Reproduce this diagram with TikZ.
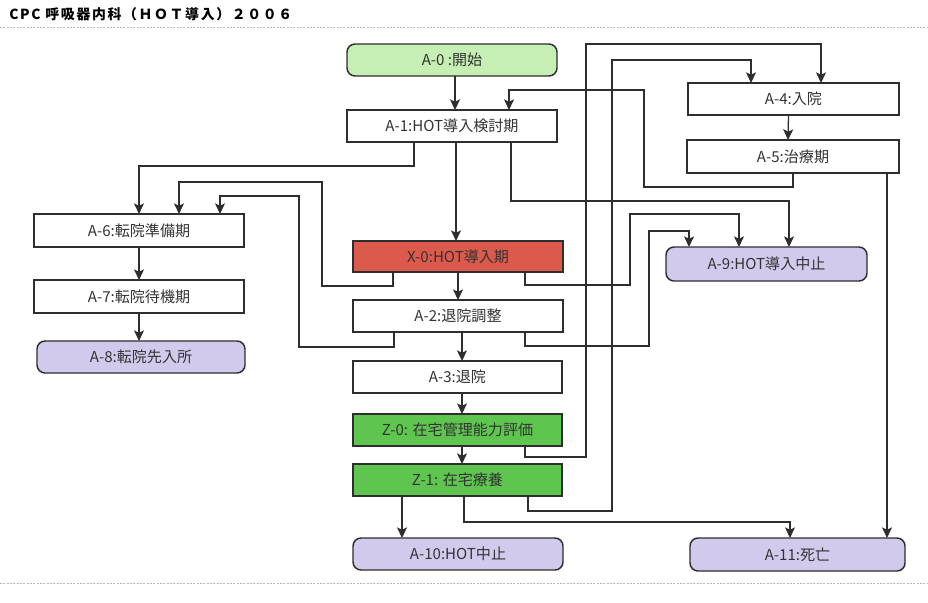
\documentclass[tikz,border=0pt]{standalone}
\usepackage{fontspec}
\setmainfont{Noto Sans CJK JP}
\usetikzlibrary{arrows.meta,calc}
\definecolor{ln}{HTML}{2E2E2E}
\definecolor{txt}{HTML}{333333}
\definecolor{startg}{HTML}{C6EFB4}
\definecolor{lav}{HTML}{D1CAEC}
\definecolor{redx}{HTML}{DB5A4B}
\definecolor{grz}{HTML}{5EC64F}
\definecolor{sep}{HTML}{B8B8B8}
\newcommand\mkbox[7]{\node[#6, minimum width={(#4-#2)*0.75pt}, minimum height={(#5-#3)*0.75pt}] (#1) at ({(#2+#4)/2},{(#3+#5)/2}) {#7};}
\begin{document}
\begin{tikzpicture}[x=0.75pt,y=-0.75pt,
  base/.style={draw=ln, line width=1.1pt, inner sep=0pt, outer sep=0pt, text=txt, font=\fontsize{11.3pt}{13pt}\selectfont},
  wbox/.style={base, fill=white},
  sbox/.style={base, fill=startg, rounded corners=6pt},
  ebox/.style={base, fill=lav, rounded corners=6pt},
  xbox/.style={base, fill=redx},
  zbox/.style={base, fill=grz},
  arr/.style={draw=ln, line width=0.95pt, -{Stealth[length=8pt,width=7.5pt,inset=1.8pt]}},
  ln/.style={draw=ln, line width=0.95pt}]
\useasboundingbox (0,0) rectangle (928,603);
\fill[white] (0,0) rectangle (928,603);
% title and separators
\node[anchor=west, inner sep=0pt, text=black, font=\fontsize{10.4pt}{12pt}\selectfont\bfseries\addfontfeature{LetterSpace=12}] (title) at (9,14) {CPC 呼吸器内科（ＨＯＴ導入）２００６};
\coordinate (s1a) at (0,27); \coordinate (s1b) at (928,27);
\coordinate (s2a) at (0,583); \coordinate (s2b) at (928,583);
\draw[sep, line width=0.6pt, dash pattern=on 1.5pt off 1pt] (s1a) -- (s1b);
\draw[sep, line width=0.6pt, dash pattern=on 1.5pt off 1pt] (s2a) -- (s2b);
% nodes
\mkbox{a0}{347}{44}{557}{76}{sbox}{A-0 :開始}
\mkbox{a1}{347}{110}{557}{142}{wbox}{A-1:HOT導入検討期}
\mkbox{a4}{688}{83}{899}{115}{wbox}{A-4:入院}
\mkbox{a5}{687}{140}{899}{173}{wbox}{A-5:治療期}
\mkbox{a6}{34}{214}{244}{247}{wbox}{A-6:転院準備期}
\mkbox{a7}{34}{280}{244}{313}{wbox}{A-7:転院待機期}
\mkbox{a8}{37}{341}{245}{373}{ebox}{A-8:転院先入所}
\mkbox{x0}{353}{241}{563}{272}{xbox}{X-0:HOT導入期}
\mkbox{a2}{353}{300}{563}{332}{wbox}{A-2:退院調整}
\mkbox{a3}{353}{361}{562}{393}{wbox}{A-3:退院}
\mkbox{z0}{353}{414}{562}{446}{zbox}{Z-0: 在宅管理能力評価}
\mkbox{z1}{353}{464}{562}{496}{zbox}{Z-1: 在宅療養}
\mkbox{a9}{666}{247}{867}{281}{ebox}{A-9:HOT導入中止}
\mkbox{a10}{353}{538}{563}{570}{ebox}{A-10:HOT中止}
\mkbox{a11}{690}{538}{905}{571}{ebox}{A-11:死亡}
% straight connectors
\draw[arr] ($(a0.south)+(3,0)$) -- ($(a1.north)+(3,0)$);
\draw[arr] ($(a1.south)+(4,0)$) -- ($(x0.north)+(-2,0)$);
\draw[arr] (x0.south) -- (a2.north);
\draw[arr] ($(a2.south)+(4,0)$) -- ($(a3.north)+(4.5,0)$);
\draw[arr] ($(a3.south)+(4.5,0)$) -- ($(z0.north)+(4.5,0)$);
\draw[arr] ($(z0.south)+(4.5,0)$) -- ($(z1.north)+(4.5,0)$);
\draw[arr] ($(z1.south west)+(49,0)$) -- ($(a10.north west)+(49,0)$);
\draw[arr] ($(a4.south)+(-5,0)$) -- ($(a5.north)+(-5,0)$);
\draw[arr] (a6.south) -- (a7.south |- a7.north);
\draw[arr] (a7.south) -- (a7.south |- a8.north);
\path ($(a5.south west)+(200,0)$) coordinate (p511);
\draw[arr] (p511) -- (p511 |- a11.north);
% routed connectors
\draw[arr] ($(a1.south west)+(67,0)$) -- ++(0,24) -| (a6.north);
\draw[arr] ($(a1.south west)+(164,0)$) |- ($(a9.north west)+(123,-46)$) -- ($(a9.north west)+(123,0)$);
\draw[arr] ($(a5.south west)+(106,0)$) -- ++(0,14) -| (644,90) -| ($(a1.north west)+(162,0)$);
\draw[arr] ($(z0.south west)+(172,0)$) -- ++(0,11) -| (586,44) -| ($(a4.north west)+(133,0)$);
\draw[arr] ($(z1.south west)+(175,0)$) -- ++(0,15) -| (612,60) -| ($(a4.north west)+(63,0)$);
\draw[arr] ($(x0.south west)+(40,0)$) -- ++(0,14) -| (322,182) -| ($(a6.north west)+(145,0)$);
\draw[arr] ($(x0.south west)+(172,0)$) -- ++(0,13) -| (630,214) -| ($(a9.north west)+(73,0)$);
\draw[arr] ($(a2.south west)+(41,0)$) -- ++(0,15) -| (299,196) -| ($(a6.north west)+(186,0)$);
\draw[arr] ($(a2.south west)+(172,0)$) -- ++(0,14) -| (649,231) -| ($(a9.north west)+(23,0)$);
\draw[arr] ($(z1.south west)+(111,0)$) -- ++(0,26) -| ($(a11.north west)+(100,0)$);
\end{tikzpicture}
\end{document}
